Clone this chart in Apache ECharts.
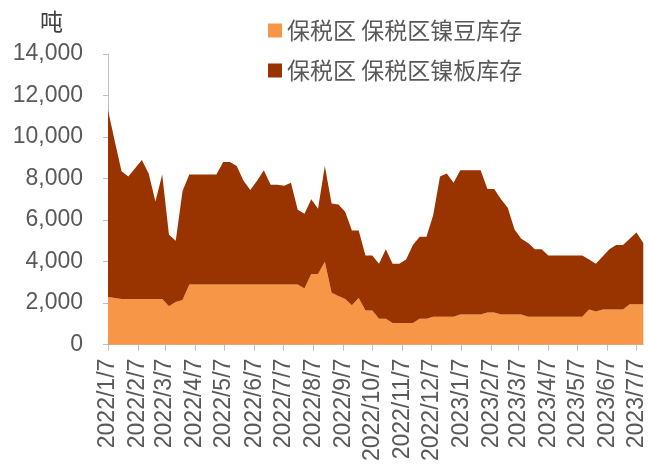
<!DOCTYPE html>
<html>
<head>
<meta charset="utf-8">
<script src="https://cdn.jsdelivr.net/npm/echarts@6/dist/echarts.min.js"></script>
<style>
html,body{margin:0;padding:0;background:#fff;}
#c{width:648px;height:464px;}
</style>
</head>
<body>
<div id="c"></div>
<script>
// ---- data (weekly, first week 2022/1/7) ----
const firstDate = [2022, 1, 7];
const weekCount = 80;
const seriesNames = ['保税区 保税区镍豆库存', '保税区 保税区镍板库存'];
const beanStock = [
  2300, 2250, 2200, 2200, 2200, 2200, 2200, 2200, 2200, 1850,
  2050, 2150, 2900, 2900, 2900, 2900, 2900, 2900, 2900, 2900,
  2900, 2900, 2900, 2900, 2900, 2900, 2900, 2900, 2900, 2700,
  3400, 3400, 4000, 2500, 2350, 2200, 1900, 2250, 1650, 1650,
  1250, 1250, 1050, 1050, 1050, 1050, 1250, 1250, 1350, 1350,
  1350, 1350, 1450, 1450, 1450, 1450, 1550, 1550, 1450, 1450,
  1450, 1450, 1350, 1350, 1350, 1350, 1350, 1350, 1350, 1350,
  1350, 1700, 1600, 1700, 1700, 1700, 1700, 1950, 1950, 1950
];
const plateStock = [
  9000, 7550, 6150, 5900, 6300, 6700, 6050, 4700, 6000, 3450,
  2950, 5250, 5300, 5300, 5300, 5300, 5300, 5900, 5900, 5700,
  5000, 4550, 5000, 5500, 4800, 4800, 4750, 4900, 3600, 3600,
  3600, 3150, 4600, 4300, 4400, 4200, 3600, 3250, 2650, 2650,
  2650, 3350, 2850, 2850, 3050, 3750, 3950, 3950, 4900, 6750,
  6900, 6450, 6950, 6950, 6950, 6950, 5950, 5950, 5550, 5150,
  4100, 3650, 3550, 3250, 3250, 2950, 2950, 2950, 2950, 2950,
  2950, 2400, 2300, 2550, 2900, 3100, 3100, 3150, 3450, 2950
];
const tickLabels = [
  '2022/1/7','2022/2/7','2022/3/7','2022/4/7','2022/5/7','2022/6/7',
  '2022/7/7','2022/8/7','2022/9/7','2022/10/7','2022/11/7','2022/12/7',
  '2023/1/7','2023/2/7','2023/3/7','2023/4/7','2023/5/7','2023/6/7','2023/7/7'
];
const yTicks = { min: 0, max: 14000, interval: 2000 };
const unitLabel = '吨';

// ---- helpers: x position = days since first date ----
const DAY = 86400000;
const t0 = Date.UTC(firstDate[0], firstDate[1] - 1, firstDate[2]);
function dayOffset(s) {
  const p = s.split('/').map(Number);
  return Math.round((Date.UTC(p[0], p[1] - 1, p[2]) - t0) / DAY);
}
const dayX = [];
for (let i = 0; i < weekCount; i++) dayX.push(7 * i);
const tickValues = tickLabels.map(dayOffset);
const labelByDay = {};
tickLabels.forEach((s, i) => { labelByDay[tickValues[i]] = s; });

const colors = ['#F79646', '#993300'];
const axisColor = '#BFBFBF';
const labelColor = '#595959';
const numFont = '"Liberation Sans", Arial, sans-serif';
const cjkFont = '"Noto Sans CJK SC", sans-serif';

function areaSeries(name, values, color) {
  return {
    name: name,
    type: 'line',
    stack: 'total',
    symbol: 'none',
    showSymbol: false,
    lineStyle: { width: 0 },
    itemStyle: { color: color },
    areaStyle: { color: color, opacity: 1 },
    // value first so the stacked dimension is the y value
    encode: { x: 1, y: 0 },
    data: dayX.map((d, i) => [values[i], d])
  };
}

const chart = echarts.init(document.getElementById('c'), null, { renderer: 'canvas' });
chart.setOption({
  animation: false,
  backgroundColor: '#ffffff',
  color: colors,
  grid: { left: 108, right: 2, top: 54, bottom: 118, containLabel: false },
  legend: {
    orient: 'vertical',
    left: 263,
    top: 14,
    icon: 'rect',
    itemWidth: 14,
    itemHeight: 14,
    itemGap: 17,
    textStyle: { fontSize: 23, color: labelColor, fontFamily: cjkFont },
    data: seriesNames
  },
  graphic: [{
    type: 'text',
    left: 40,
    top: 10,
    style: { text: unitLabel, fill: '#404040', font: '23px ' + cjkFont }
  }],
  xAxis: {
    type: 'value',
    min: dayX[0],
    max: dayX[dayX.length - 1],
    axisLine: { show: true, onZero: false, lineStyle: { color: axisColor, width: 1 } },
    axisTick: { show: true, customValues: tickValues, length: 6, lineStyle: { color: axisColor } },
    axisLabel: {
      customValues: tickValues,
      rotate: 90,
      margin: 14,
      fontSize: 23,
      color: labelColor,
      fontFamily: numFont,
      hideOverlap: false,
      formatter: function (v) { return labelByDay[Math.round(v)] || ''; }
    },
    splitLine: { show: false }
  },
  yAxis: {
    type: 'value',
    min: yTicks.min,
    max: yTicks.max,
    interval: yTicks.interval,
    axisLine: { show: true, lineStyle: { color: axisColor, width: 1 } },
    axisTick: { show: true, length: 5, lineStyle: { color: axisColor } },
    axisLabel: {
      fontSize: 23,
      color: labelColor,
      fontFamily: numFont,
      margin: 25,
      formatter: function (v) { return v.toLocaleString('en-US'); }
    },
    splitLine: { show: false }
  },
  series: [
    areaSeries(seriesNames[0], beanStock, colors[0]),
    areaSeries(seriesNames[1], plateStock, colors[1])
  ]
});
</script>
</body>
</html>
